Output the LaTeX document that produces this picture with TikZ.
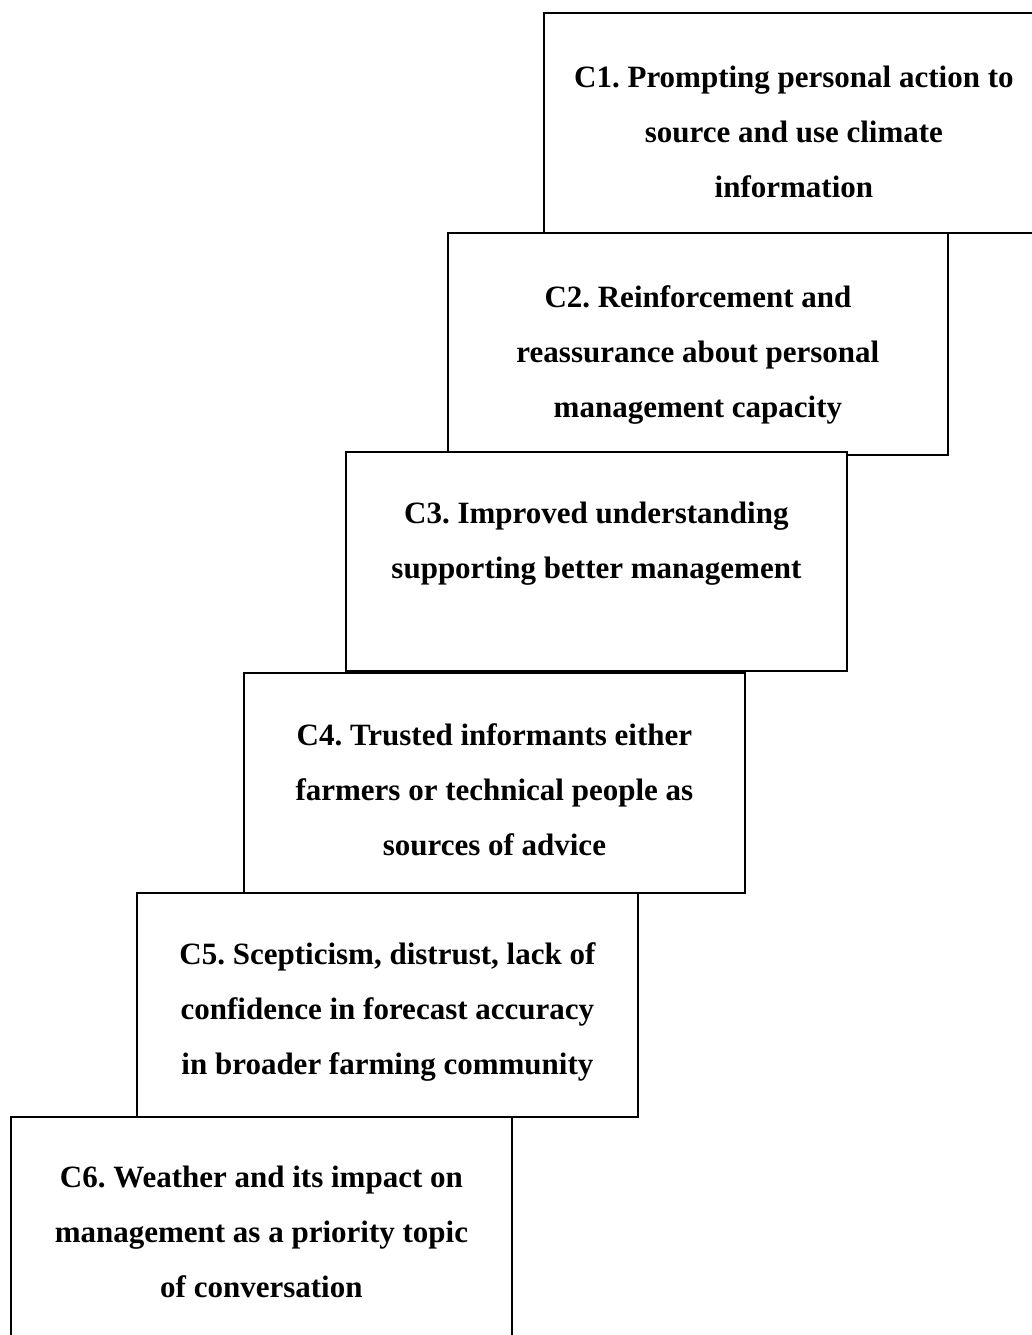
\documentclass[tikz,border=0pt]{standalone}
\usepackage{fontspec}
\setmainfont{Liberation Serif}
\frenchspacing
\begin{document}
\begin{tikzpicture}[x=1pt,y=1pt,
  stepbox/.style={draw=black, line width=1.8pt, fill=white, rectangle, inner sep=0pt, anchor=north west},
  steptext/.style={anchor=north, inner sep=0pt, align=center, font=\bfseries\fontsize{31}{55}\selectfont}]
\useasboundingbox (0,0) rectangle (1032,-1335);
\node[stepbox, minimum width=500, minimum height=220] (c1) at (543,-12) {};
\node[steptext] (t1) at ([yshift=-54]c1.north) {C1. Prompting personal action to\\source and use climate\\information};
\node[stepbox, minimum width=500, minimum height=222] (c2) at (447,-232) {};
\node[steptext] (t2) at ([yshift=-53]c2.north) {C2. Reinforcement and\\reassurance about personal\\management capacity};
\node[stepbox, minimum width=501, minimum height=219] (c3) at (345,-451) {};
\node[steptext] (t3) at ([yshift=-51]c3.north) {C3. Improved understanding\\supporting better management};
\node[stepbox, minimum width=501, minimum height=220] (c4) at (243,-672) {};
\node[steptext] (t4) at ([yshift=-51]c4.north) {C4. Trusted informants either\\farmers or technical people as\\sources of advice};
\node[stepbox, minimum width=501, minimum height=224] (c5) at (136,-892) {};
\node[steptext] (t5) at ([yshift=-50]c5.north) {C5. Scepticism, distrust, lack of\\confidence in forecast accuracy\\in broader farming community};
\node[stepbox, minimum width=501, minimum height=222] (c6) at (10,-1116) {};
\node[steptext] (t6) at ([yshift=-50]c6.north) {C6. Weather and its impact on\\management as a priority topic\\of conversation};
\end{tikzpicture}
\end{document}
